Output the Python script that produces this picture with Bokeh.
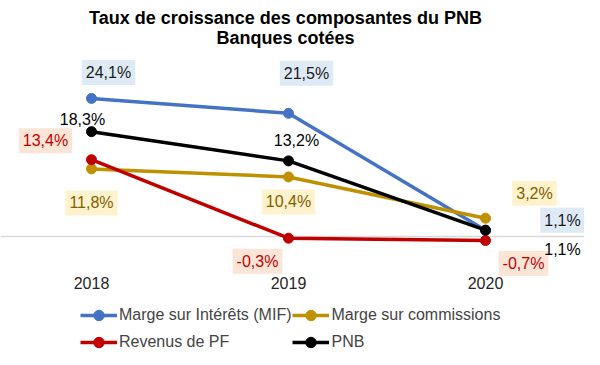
from bokeh.plotting import figure
from bokeh.models import ColumnDataSource, Label, Legend, LegendItem, Range1d
from bokeh.embed import file_html
from bokeh.resources import INLINE
from bokeh.core.properties import value

# ---- data ----
years = [2018, 2019, 2020]
year_labels = ["2018", "2019", "2020"]
mif = [24.1, 21.5, 1.1]
commissions = [11.8, 10.4, 3.2]
revenus_pf = [13.4, -0.3, -0.7]
pnb = [18.3, 13.2, 1.1]
series_names = ["Marge sur Intérêts (MIF)", "Marge sur commissions", "Revenus de PF", "PNB"]
title_lines = ["Taux de croissance des composantes du PNB", "Banques cotées"]

# ---- style ----
colors = ["#4472C4", "#BF9000", "#C00000", "#000000"]
label_text_colors = ["#1A1A1A", "#7F6000", "#C00000", "#000000"]
label_bg = ["#DEEBF7", "#FFF2CC", "#FBE5D6", None]
# label offsets in px (dx, dy downwards) per series per year
offsets = [
    [(17, -26), (18, -40), (77, -10)],
    [(0, 34), (0, 25), (49, -25)],
    [(-46, -19), (-31, 23), (38, 23)],
    [(-9, -12), (8, -20), (77, 19)],
]
FONT = "Liberation Sans"

W, H = 584, 349
p = figure(width=W, height=H, output_backend="svg", toolbar_location=None,
           min_border=0, x_range=Range1d(2017.5381, 2020.5025),
           y_range=Range1d(-19.72, 41.19))
p.xaxis.visible = False
p.yaxis.visible = False
p.grid.visible = False
p.outline_line_color = None
p.background_fill_color = "white"
p.border_fill_color = "white"

# zero line
p.line(x=[2017.5381, 2020.5025], y=[0, 0], line_color="#D9D9D9", line_width=1.5)

all_series = [mif, commissions, revenus_pf, pnb]
items = {}
for vals, name, col, tcol, bg, offs in zip(all_series, series_names, colors,
                                           label_text_colors, label_bg, offsets):
    src = ColumnDataSource(dict(
        x=years, y=vals,
        t=[("%.1f" % v).replace(".", ",") + "%" for v in vals],
        dx=[o[0] for o in offs], dy=[o[1] for o in offs]))
    r1 = p.line("x", "y", source=src, line_color=col, line_width=3.5)
    r2 = p.scatter("x", "y", source=src, size=10, fill_color=col, line_color=col)
    items[name] = LegendItem(label=name, renderers=[r1, r2])
    kw = {}
    if bg:
        kw = dict(background_fill_color=bg, padding=4)
    p.text("x", "y", text="t", source=src, x_offset="dx", y_offset="dy",
           text_align="center", text_baseline="middle",
           text_font=value(FONT), text_font_size="16px", text_color=tcol, **kw)

# year labels
ysrc = ColumnDataSource(dict(x=years, y=[-8.2] * 3, t=year_labels))
p.text("x", "y", text="t", source=ysrc, text_align="center", text_baseline="middle",
       text_font=value(FONT), text_font_size="16px", text_color="#262626")

# title
for i, line in enumerate(title_lines):
    p.add_layout(Label(x=285, y=H - 17 - 20 * i, x_units="screen", y_units="screen",
                       text=line, text_align="center", text_baseline="middle",
                       text_font=FONT, text_font_size="18px", text_font_style="bold",
                       text_color="#000000"))

# legend: column-major order -> row 1: MIF, commissions; row 2: PF, PNB
legend_order = [series_names[0], series_names[2], series_names[1], series_names[3]]
legend = Legend(items=[items[n] for n in legend_order], ncols=2, location=(80, -6),
                label_text_font=FONT, label_text_font_size="16px",
                glyph_width=37, glyph_height=26, label_height=26,
                label_standoff=2, spacing=1,
                padding=0, margin=0, border_line_color=None,
                background_fill_alpha=0)
p.add_layout(legend)

open("out.html", "w").write(file_html(p, INLINE))
